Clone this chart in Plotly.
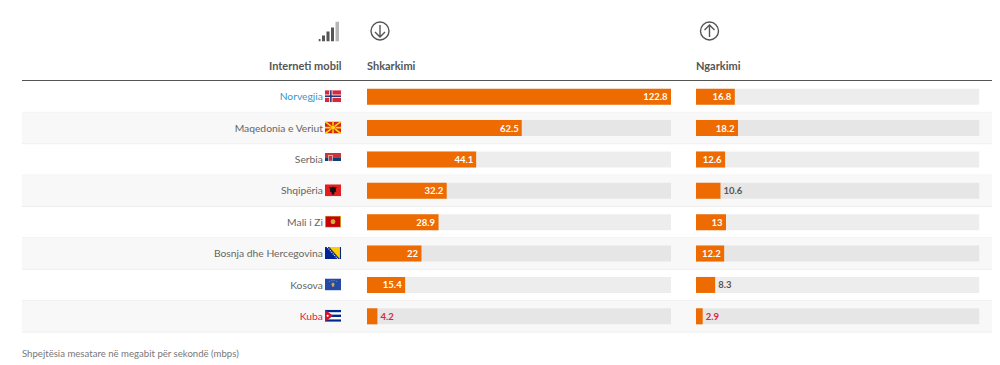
import base64
import plotly.graph_objects as go

countries = ["Norvegjia", "Maqedonia e Veriut", "Serbia", "Shqipëria", "Mali i Zi",
             "Bosnja dhe Hercegovina", "Kosova", "Kuba"]
download = [122.8, 62.5, 44.1, 32.2, 28.9, 22, 15.4, 4.2]
upload = [16.8, 18.2, 12.6, 10.6, 13, 12.2, 8.3, 2.9]
track_max = [122.8] * 8
label_colors = ["#3a95c9", "#666666", "#666666", "#666666", "#666666", "#666666", "#666666", "#d8283c"]
header_left = "Interneti mobil"
header_down = "Shkarkimi"
header_up = "Ngarkimi"
caption = "Shpejtësia mesatare në megabit për sekondë (mbps)"

W, H = 1000, 365
FONT = "Lato, 'Open Sans', sans-serif"
ORANGE = "#ed6b00"
TOP, BOTTOM = 81, 332
ROW = (BOTTOM - TOP) / len(countries)


def px(x):
    return x / W


def py(y):
    return 1 - y / H


def svg_uri(body, w, h):
    s = f'<svg xmlns="http://www.w3.org/2000/svg" width="{w}" height="{h}" viewBox="0 0 {w} {h}">{body}</svg>'
    return "data:image/svg+xml;base64," + base64.b64encode(s.encode()).decode()


flags = [
    '<rect width="30" height="22" fill="#d8283c"/><rect x="8" width="6" height="22" fill="#fff"/><rect y="8" width="30" height="6" fill="#fff"/>'
    '<rect x="9.5" width="3" height="22" fill="#1f3a7a"/><rect y="9.5" width="30" height="3" fill="#1f3a7a"/>',
    '<rect width="30" height="22" fill="#d8201c"/><g stroke="#f8d90f" stroke-width="3"><path d="M0 0L30 22M30 0L0 22M15 0V22M0 11H30"/></g><circle cx="15" cy="11" r="4.5" fill="#f8d90f" stroke="#d8201c"/>',
    '<rect width="30" height="8" fill="#c6363c"/><rect y="8" width="30" height="7" fill="#0c4076"/><rect y="15" width="30" height="7" fill="#fff"/><rect x="7" y="5" width="7" height="10" fill="#c6363c" stroke="#fff"/>',
    '<rect width="30" height="22" fill="#e41e20"/><path d="M15 4l3 2 4-1-2 5 1 3-3 1-1 4-2 1-2-1-1-4-3-1 1-3-2-5 4 1z" fill="#111"/>',
    '<rect width="30" height="22" fill="#d4af37"/><rect x="1.5" y="1.5" width="27" height="19" fill="#c40308"/><circle cx="15" cy="11" r="4.5" fill="#d4af37"/>',
    '<rect width="30" height="22" fill="#002395"/><path d="M8 0H28V22z" fill="#fecb00"/><path d="M4 0L24 22" stroke="#fff" stroke-width="2" stroke-dasharray="2 2"/>',
    '<rect width="30" height="22" fill="#244aa5"/><path d="M15 7l3 3-1 4 -2 2-2-2-1-4z" fill="#d0a650"/><g fill="#fff"><circle cx="9" cy="5" r=".8"/><circle cx="13" cy="4" r=".8"/><circle cx="17" cy="4" r=".8"/><circle cx="21" cy="5" r=".8"/></g>',
    '<rect width="30" height="22" fill="#fff"/><g fill="#002a8f"><rect width="30" height="4.4"/><rect y="8.8" width="30" height="4.4"/><rect y="17.6" width="30" height="4.4"/></g><path d="M0 0L15 11L0 22z" fill="#cf142b"/><circle cx="5" cy="11" r="2" fill="#fff"/>',
]

signal = "".join(
    f'<rect x="{x}" y="{y}" width="{w}" height="{20 - y}" fill="{c}"/>'
    for x, y, w, c in [(0, 17.5, 2, "#555"), (3.5, 14, 3, "#555"), (8, 10, 3, "#555"), (12.5, 6, 3, "#555"), (17, 0, 3.5, "#b5b5b5")]
)


def arrow_icon(down):
    d = "M11 5V17M6 12L11 17L16 12" if down else "M11 17V5M6 10L11 5L16 10"
    return (f'<circle cx="11" cy="11" r="9" fill="none" stroke="#555" stroke-width="1.4"/>'
            f'<path d="{d}" fill="none" stroke="#555" stroke-width="1.4"/>')


def value_text(vals, threshold):
    pos = ["inside" if v > threshold else "outside" for v in vals]
    col = ["#ffffff" if v > threshold else c for v, c in
           zip(vals, ["#555555"] * 7 + ["#d8283c"])]
    return pos, col


fig = go.Figure()

for vals, xa, ya, thr in [(download, "x", "y", 10), (upload, "x2", "y2", 11)]:
    fig.add_trace(go.Bar(
        y=countries, x=track_max, orientation="h", xaxis=xa, yaxis=ya, width=0.51,
        marker=dict(color="rgba(0,0,0,0.07)", line_width=0), hoverinfo="skip", showlegend=False))
    pos, col = value_text(vals, thr)
    fig.add_trace(go.Bar(
        y=countries, x=vals, orientation="h", xaxis=xa, yaxis=ya, width=0.51,
        marker=dict(color=ORANGE, line_width=0), showlegend=False,
        text=[str(v) for v in vals], textposition=pos, insidetextanchor="end",
        textangle=0, constraintext="none", cliponaxis=False,
        textfont=dict(family=FONT, size=9.5, color=col, weight="bold")))

shapes = []
for i in range(len(countries)):
    y0, y1 = TOP + i * ROW, TOP + (i + 1) * ROW
    if i % 2 == 1:
        shapes.append(dict(type="rect", xref="paper", yref="paper", x0=px(22), x1=px(992),
                           y0=py(y1), y1=py(y0), fillcolor="#f8f8f8",
                           line=dict(width=0), layer="below"))
    shapes.append(dict(type="line", xref="paper", yref="paper", x0=px(22), x1=px(992),
                       y0=py(y1), y1=py(y1), line=dict(color="#eeeeee", width=1), layer="below"))
shapes.append(dict(type="line", xref="paper", yref="paper", x0=px(22), x1=px(992),
                   y0=py(80.5), y1=py(80.5), line=dict(color="#555555", width=1)))

images = []
for i, body in enumerate(flags):
    images.append(dict(source=svg_uri(body, 30, 22), xref="paper", yref="paper", x=px(325),
                       y=py(TOP + (i + 0.5) * ROW - 6.5), sizex=16 / W, sizey=12 / H,
                       xanchor="left", yanchor="top", sizing="stretch", layer="above"))
images.append(dict(source=svg_uri(signal, 21, 20), xref="paper", yref="paper", x=px(318.5), y=py(21.5),
                   sizex=21 / W, sizey=20 / H, xanchor="left", yanchor="top", sizing="stretch"))
for cx, down in [(380, True), (709.5, False)]:
    images.append(dict(source=svg_uri(arrow_icon(down), 22, 22), xref="paper", yref="paper",
                       x=px(cx - 11), y=py(20), sizex=22 / W, sizey=22 / H,
                       xanchor="left", yanchor="top", sizing="stretch"))


def note(text, x, y, anchor="left", size=11, color="#555555", bold=False):
    return dict(text=f"<b>{text}</b>" if bold else text, xref="paper", yref="paper", x=px(x), y=py(y),
                xanchor=anchor, yanchor="middle", showarrow=False, xshift=0,
                font=dict(family=FONT, size=size, color=color))


annotations = [
    note(header_left, 344, 65, "right", bold=True),
    note(header_down, 365, 65, bold=True),
    note(header_up, 694, 65, bold=True),
    note(caption, 20, 353, size=9.6, color="#777777"),
]

yticks = [f"<span style='color:{c}'>{n}</span>" for n, c in zip(countries, label_colors)]
dom_y = [py(BOTTOM), py(TOP)]
fig.update_layout(
    width=W, height=H, margin=dict(l=0, r=0, t=0, b=0), autosize=False,
    paper_bgcolor="#ffffff", plot_bgcolor="rgba(0,0,0,0)", barmode="overlay",
    font=dict(family=FONT, size=10.3, color="#666666"),
    shapes=shapes, images=images, annotations=annotations,
    xaxis=dict(domain=[px(367), px(671)], range=[0, 122.8], visible=False, fixedrange=True),
    xaxis2=dict(domain=[px(696), px(979.5)], range=[0, 122.8], visible=False, fixedrange=True),
    yaxis=dict(domain=dom_y, anchor="x", type="category", categoryorder="array", categoryarray=countries,
               autorange="reversed", tickmode="array", tickvals=countries, ticktext=yticks,
               ticks="outside", ticklen=41, tickcolor="rgba(0,0,0,0)", showline=False, showgrid=False,
               zeroline=False, fixedrange=True, tickfont=dict(family=FONT, size=10.3)),
    yaxis2=dict(domain=dom_y, anchor="x2", type="category", categoryorder="array", categoryarray=countries,
                autorange="reversed", showticklabels=False, showline=False, showgrid=False,
                zeroline=False, fixedrange=True),
)

fig.write_html("out.html", config={"displayModeBar": False},
               post_script="document.body.style.margin='0';document.body.style.overflow='hidden';")
